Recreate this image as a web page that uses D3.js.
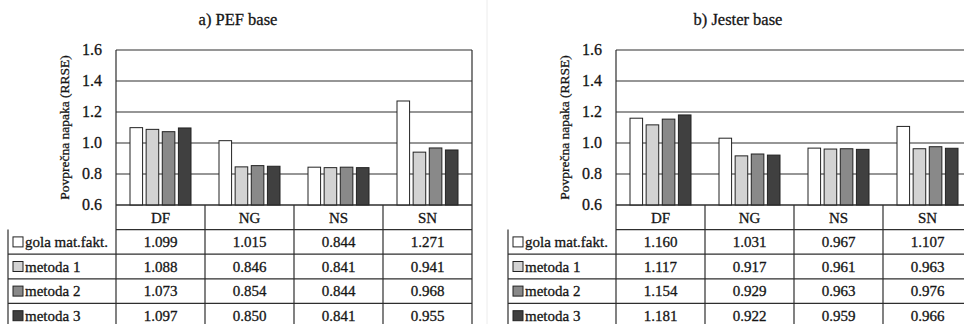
<!DOCTYPE html>
<html>
<head>
<meta charset="utf-8">
<script src="https://cdn.jsdelivr.net/npm/d3@7"></script>
<style>
    body { margin: 0; background: #fff; }
    svg { display: block; }
</style>
</head>
<body>
<div id="chart"></div>
<script>

// data
var categories = ['DF', 'NG', 'NS', 'SN'];
var seriesNames = ['gola mat.fakt.', 'metoda 1', 'metoda 2', 'metoda 3'];
var seriesColors = ['#ffffff', '#d3d3d3', '#898989', '#404040'];
var yTicks = [0.6, 0.8, 1.0, 1.2, 1.4, 1.6];

var pefValues = [
    [1.099, 1.015, 0.844, 1.271],
    [1.088, 0.846, 0.841, 0.941],
    [1.073, 0.854, 0.844, 0.968],
    [1.097, 0.850, 0.841, 0.955]
];
var jesterValues = [
    [1.160, 1.031, 0.967, 1.107],
    [1.117, 0.917, 0.961, 0.963],
    [1.154, 0.929, 0.963, 0.976],
    [1.181, 0.922, 0.959, 0.966]
];

var panels = [
    { title: 'a) PEF base', values: pefValues, dx: 0 },
    { title: 'b) Jester base', values: jesterValues, dx: 500 }
];

var width = 964, height = 324;
var lineColor = '#2e2e2e';
var serif = "'Liberation Serif', monospace";

var svg = d3.select('#chart').append('svg')
    .attr('width', width)
    .attr('height', height);

// faint divider between the two figures
svg.append('line')
    .attr('x1', 487).attr('x2', 487)
    .attr('y1', 0).attr('y2', height)
    .attr('stroke', '#ececec');

function drawPanel(p){

    var g = svg.append('g').attr('transform', 'translate(' + p.dx + ',0)');

    var x0 = d3.scaleBand()
        .domain(categories)
        .range([116, 472]);

    var x1 = d3.scaleBand()
        .domain(d3.range(seriesNames.length))
        .range([14, x0.bandwidth() - 14])
        .paddingInner(0.22);

    var y = d3.scaleLinear()
        .domain([0.6, 1.6])
        .range([205, 50]);

    var rowH = 24.6;
    var tableTop = 205;
    var tableLeft = 8;

    // title
    g.append('text')
        .attr('x', 238)
        .attr('y', 25)
        .attr('text-anchor', 'middle')
        .style('font-size', '16.5px')
        .text(p.title);

    // y axis label
    g.append('text')
        .attr('transform', 'translate(69,' + y(1.1) + ') rotate(-90)')
        .attr('text-anchor', 'middle')
        .style('font-size', '13.5px')
        .text('Povprečna napaka (RRSE)');

    // grid lines + tick labels
    g.selectAll('line.grid')
        .data(yTicks)
        .enter()
        .append('line')
        .attr('class', 'grid')
        .attr('x1', x0.range()[0])
        .attr('x2', x0.range()[1])
        .attr('y1', function(d){ return y(d); })
        .attr('y2', function(d){ return y(d); })
        .attr('stroke', lineColor)
        .attr('stroke-width', 1.2);

    g.selectAll('text.tick')
        .data(yTicks)
        .enter()
        .append('text')
        .attr('class', 'tick')
        .attr('x', 102)
        .attr('y', function(d){ return y(d); })
        .attr('dy', '0.33em')
        .attr('text-anchor', 'end')
        .style('font-size', '16px')
        .text(function(d){ return d3.format('.1f')(d); });

    // bars
    var groups = g.selectAll('g.cat')
        .data(categories)
        .enter()
        .append('g')
        .attr('class', 'cat')
        .attr('transform', function(d){ return 'translate(' + x0(d) + ',0)'; });

    groups.selectAll('rect')
        .data(function(d, ci){
            return p.values.map(function(row, si){ return { s: si, v: row[ci] }; });
        })
        .enter()
        .append('rect')
        .attr('x', function(d){ return x1(d.s); })
        .attr('width', x1.bandwidth())
        .attr('y', function(d){ return y(d.v); })
        .attr('height', function(d){ return y(0.6) - y(d.v); })
        .attr('fill', function(d){ return seriesColors[d.s]; })
        .attr('stroke', '#222')
        .attr('stroke-width', 1);

    // table: horizontal lines
    var rowLines = d3.range(seriesNames.length + 2).map(function(i){ return tableTop + i * rowH; });

    g.selectAll('line.row')
        .data(rowLines)
        .enter()
        .append('line')
        .attr('class', 'row')
        .attr('x1', function(d, i){ return i < 2 ? x0.range()[0] : tableLeft; })
        .attr('x2', x0.range()[1])
        .attr('y1', function(d){ return d; })
        .attr('y2', function(d){ return d; })
        .attr('stroke', lineColor)
        .attr('stroke-width', 1.2);

    // vertical lines: plot frame + category dividers down through the table
    var vx = categories.map(function(c){ return x0(c); }).concat([x0.range()[1]]);

    g.selectAll('line.col')
        .data(vx)
        .enter()
        .append('line')
        .attr('class', 'col')
        .attr('x1', function(d){ return d; })
        .attr('x2', function(d){ return d; })
        .attr('y1', function(d, i){ return (i === 0 || i === vx.length - 1) ? y(1.6) : y(0.6); })
        .attr('y2', height + 10)
        .attr('stroke', lineColor)
        .attr('stroke-width', 1.2);

    g.append('line')
        .attr('x1', tableLeft).attr('x2', tableLeft)
        .attr('y1', tableTop + rowH).attr('y2', height + 10)
        .attr('stroke', lineColor)
        .attr('stroke-width', 1.2);

    // header labels
    g.selectAll('text.cat')
        .data(categories)
        .enter()
        .append('text')
        .attr('class', 'cat')
        .attr('x', function(d){ return x0(d) + x0.bandwidth() / 2; })
        .attr('y', tableTop + rowH / 2)
        .attr('dy', '0.35em')
        .attr('text-anchor', 'middle')
        .style('font-size', '15px')
        .text(function(d){ return d; });

    // legend rows
    var rows = g.selectAll('g.tr')
        .data(seriesNames)
        .enter()
        .append('g')
        .attr('class', 'tr')
        .attr('transform', function(d, i){ return 'translate(0,' + (tableTop + rowH * (i + 1)) + ')'; });

    rows.append('rect')
        .attr('x', 13)
        .attr('y', rowH / 2 - 5)
        .attr('width', 10)
        .attr('height', 10)
        .attr('fill', function(d, i){ return seriesColors[i]; })
        .attr('stroke', '#222');

    rows.append('text')
        .attr('x', 25)
        .attr('y', rowH / 2)
        .attr('dy', '0.35em')
        .style('font-size', '15px')
        .text(function(d){ return d; });

    rows.selectAll('text.val')
        .data(function(d, i){ return p.values[i]; })
        .enter()
        .append('text')
        .attr('class', 'val')
        .attr('x', function(d, ci){ return x0(categories[ci]) + x0.bandwidth() / 2; })
        .attr('y', rowH / 2)
        .attr('dy', '0.35em')
        .attr('text-anchor', 'middle')
        .style('font-size', '15px')
        .text(function(d){ return d3.format('.3f')(d); });
}

panels.forEach(drawPanel);

// the scanned original has heavier type; a hairline stroke thickens it a bit
svg.selectAll('text')
    .style('font-family', serif)
    .style('fill', '#151515')
    .style('stroke', '#151515')
    .style('stroke-width', 0.3);

</script>
</body>
</html>
